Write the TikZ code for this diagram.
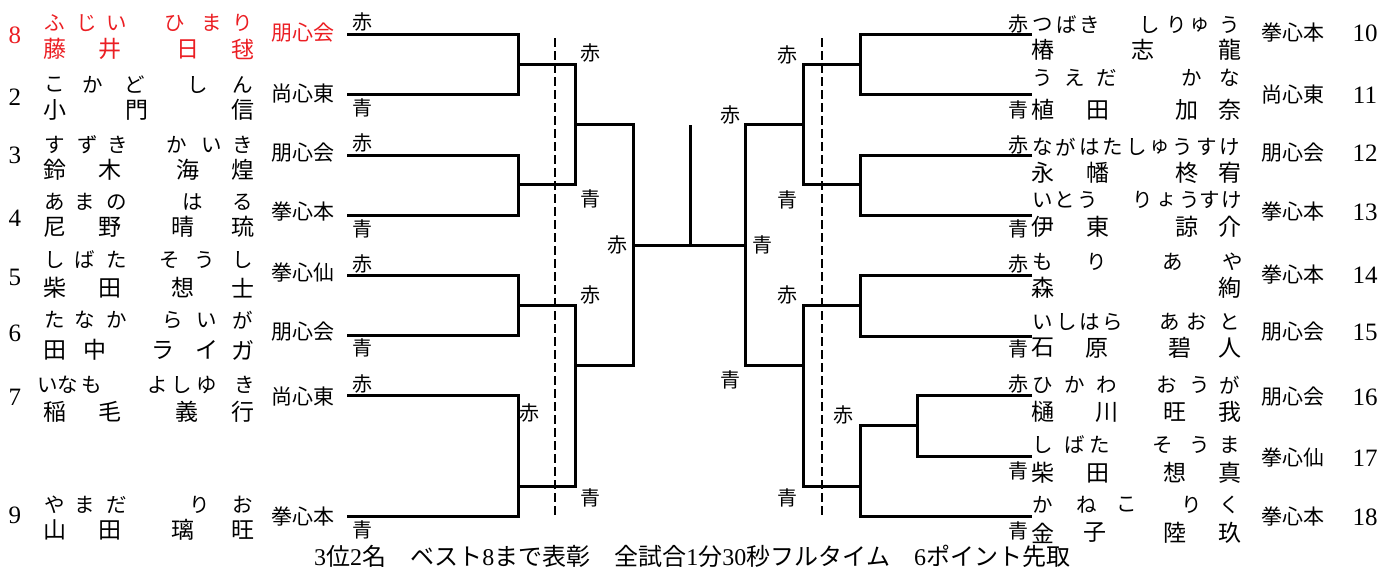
\documentclass[tikz,border=0pt]{standalone}
\usepackage{fontspec}
\newfontfamily\cjk{Noto Sans CJK JP}
\newfontfamily\digits{Liberation Serif}
\definecolor{seedred}{RGB}{235,30,35}
\newcommand\pname[5]{%
  \foreach \x/\c [count=\i] in {#3} \node[kn] (#1a\i) at (\x,#2) {\c};
  \foreach \x/\c [count=\i] in {#5} \node[kj] (#1b\i) at (\x,#4) {\c};
}
\newcommand\dg[1]{{\digits #1}}
\begin{document}
\begin{tikzpicture}[x=1pt,y=-1pt,
  kn/.style={font=\cjk\fontsize{20.5}{20.5}\selectfont,inner sep=0pt},
  kj/.style={font=\cjk\fontsize{23}{23}\selectfont,inner sep=0pt},
  club/.style={font=\cjk\fontsize{21}{21}\selectfont,inner sep=0pt},
  num/.style={font=\digits\fontsize{25}{25}\selectfont,inner sep=0pt},
  lab/.style={font=\cjk\fontsize{20}{20}\selectfont,inner sep=0pt},
  br/.style={line width=3pt,line join=miter},
  dsh/.style={line width=1.6pt,dash pattern=on 9pt off 4pt},
]
\useasboundingbox (0,0) rectangle (1385,571);

% ---------------- left players ----------------
\begin{scope}[every node/.append style={text=seedred}]
\node[num] (n8) at (15,35) {8};
\pname{p8}{23}{55/ふ,87/じ,117/い,175/ひ,212/ま,243/り}{49}{55/藤,110/井,188/日,243/毬}
\node[club] (c8) at (303,33) {朋心会};
\end{scope}

\node[num] (n2) at (15,97) {2};
\pname{p2}{85}{55/こ,93/か,135/ど,198/し,243/ん}{110}{55/小,137/門,243/信}
\node[club] (c2) at (303,94) {尚心東};

\node[num] (n3) at (15,155) {3};
\pname{p3}{145}{55/す,88/ず,118/き,177/か,212/い,243/き}{170}{55/鈴,110/木,188/海,243/煌}
\node[club] (c3) at (303,153) {朋心会};

\node[num] (n4) at (15,218) {4};
\pname{p4}{202}{55/あ,85/ま,117/の,193/は,243/る}{227}{55/尼,110/野,183/晴,243/琉}
\node[club] (c4) at (303,212) {拳心本};

\node[num] (n5) at (15,277) {5};
\pname{p5}{260}{55/し,85/ば,117/た,170/そ,205/う,243/し}{288}{55/柴,110/田,183/想,243/士}
\node[club] (c5) at (303,273) {拳心仙};

\node[num] (n6) at (15,333) {6};
\pname{p6}{320}{55/た,85/な,117/か,173/ら,207/い,243/が}{350}{55/田,95/中,163/ラ,207/イ,243/ガ}
\node[club] (c6) at (303,332) {朋心会};

\node[num] (n7) at (15,397) {7};
\pname{p7}{385}{48/い,68/な,92/も,158/よ,182/し,207/ゆ,245/き}{412}{55/稲,110/毛,187/義,243/行}
\node[club] (c7) at (303,397) {尚心東};

\node[num] (n9) at (15,515) {9};
\pname{p9}{505}{55/や,85/ま,117/だ,200/り,243/お}{530}{55/山,110/田,183/璃,243/旺}
\node[club] (c9) at (303,517) {拳心本};

% ---------------- right players ----------------
\pname{p10}{25}{1043/つ,1067/ば,1090/き,1150/し,1177/り,1200/ゅ,1230/う}{50}{1043/椿,1143/志,1230/龍}
\node[club] (c10) at (1293,33) {拳心本}; \node[num] (n10) at (1365,33) {10};

\pname{p11}{78}{1043/う,1075/え,1107/だ,1192/か,1230/な}{110}{1043/植,1098/田,1187/加,1230/奈}
\node[club] (c11) at (1293,95) {尚心東}; \node[num] (n11) at (1365,95) {11};

\pname{p12}{147}{1043/な,1066/が,1090/は,1113/た,1137/し,1160/ゅ,1183/う,1207/す,1230/け}{173}{1043/永,1098/幡,1187/柊,1230/宥}
\node[club] (c12) at (1293,153) {朋心会}; \node[num] (n12) at (1365,153) {12};

\pname{p13}{200}{1043/い,1065/と,1088/う,1143/り,1167/ょ,1190/う,1210/す,1232/け}{227}{1043/伊,1098/東,1187/諒,1230/介}
\node[club] (c13) at (1293,212) {拳心本}; \node[num] (n13) at (1365,212) {13};

\pname{p14}{262}{1043/も,1097/り,1173/あ,1233/や}{288}{1043/森,1230/絢}
\node[club] (c14) at (1293,275) {拳心本}; \node[num] (n14) at (1365,275) {14};

\pname{p15}{322}{1043/い,1067/し,1090/は,1113/ら,1170/あ,1197/お,1230/と}{348}{1043/石,1097/原,1180/碧,1230/人}
\node[club] (c15) at (1293,332) {朋心会}; \node[num] (n15) at (1365,332) {15};

\pname{p16}{385}{1043/ひ,1075/か,1107/わ,1167/お,1200/う,1230/が}{412}{1043/樋,1107/川,1175/旺,1230/我}
\node[club] (c16) at (1293,397) {朋心会}; \node[num] (n16) at (1365,397) {16};

\pname{p17}{445}{1043/し,1075/ば,1100/た,1163/そ,1200/う,1230/ま}{473}{1043/柴,1098/田,1175/想,1230/真}
\node[club] (c17) at (1293,458) {拳心仙}; \node[num] (n17) at (1365,458) {17};

\pname{p18}{505}{1043/か,1087/ね,1127/こ,1192/り,1230/く}{533}{1043/金,1095/子,1175/陸,1230/玖}
\node[club] (c18) at (1293,517) {拳心本}; \node[num] (n18) at (1365,517) {18};

% ---------------- bracket coordinates ----------------
\coordinate (L8) at (347,34);  \coordinate (L2) at (347,94);
\coordinate (L3) at (347,155); \coordinate (L4) at (347,215);
\coordinate (L5) at (347,275); \coordinate (L6) at (347,335);
\coordinate (L7) at (347,395); \coordinate (L9) at (347,516);
\coordinate (j1) at (518,64);  \coordinate (j2) at (518,184);
\coordinate (j3) at (518,305); \coordinate (j4) at (518,486);
\coordinate (s1) at (575,124); \coordinate (s2) at (575,365);
\coordinate (f1) at (633,245);
\coordinate (c) at (690,245);  \coordinate (ctop) at (690,125);
\coordinate (g1) at (745,245);
\coordinate (p1) at (803,124); \coordinate (p2) at (803,365);
\coordinate (q1) at (860,64);  \coordinate (q2) at (860,184);
\coordinate (q3) at (860,305); \coordinate (q4) at (860,486);
\coordinate (q5) at (917,425);
\coordinate (R10) at (1032,34);  \coordinate (R11) at (1032,94);
\coordinate (R12) at (1032,155); \coordinate (R13) at (1032,215);
\coordinate (R14) at (1032,275); \coordinate (R15) at (1032,336);
\coordinate (R16) at (1032,395); \coordinate (R17) at (1032,456);
\coordinate (R18) at (1032,516);
\coordinate (dl1) at (555,38); \coordinate (dl2) at (555,515);
\coordinate (dr1) at (822,38); \coordinate (dr2) at (822,515);

% left bracket
\draw[br] (L8) -| (j1) |- (L2);
\draw[br] (L3) -| (j2) |- (L4);
\draw[br] (L5) -| (j3) |- (L6);
\draw[br] (L7) -| (j4) |- (L9);
\draw[br] (j1) -| (s1) |- (j2);
\draw[br] (j3) -| (s2) |- (j4);
\draw[br] (s1) -| (f1) |- (s2);
% centre
\draw[br] (f1) -- (c) -- (g1);
\draw[br] (c) -- (ctop);
% right bracket
\draw[br] (R10) -| (q1) |- (R11);
\draw[br] (R12) -| (q2) |- (R13);
\draw[br] (R14) -| (q3) |- (R15);
\draw[br] (R16) -| (q5) |- (R17);
\draw[br] (q5) -| (q4) |- (R18);
\draw[br] (q1) -| (p1) |- (q2);
\draw[br] (q3) -| (p2) |- (q4);
\draw[br] (p1) -| (g1) |- (p2);
% dashed lines
\draw[dsh] (dl1) -- (dl2);
\draw[dsh] (dr1) -- (dr2);

% ---------------- labels ----------------
\node[lab] (la1) at (362,22) {赤};
\node[lab] (la2) at (362,108) {青};
\node[lab] (la3) at (362,143) {赤};
\node[lab] (la4) at (362,229) {青};
\node[lab] (la5) at (362,264) {赤};
\node[lab] (la6) at (362,348) {青};
\node[lab] (la7) at (362,384) {赤};
\node[lab] (la9) at (362,530) {青};
\node[lab] (lb1) at (590,53) {赤};
\node[lab] (lb2) at (590,199) {青};
\node[lab] (lb3) at (590,295) {赤};
\node[lab] (lb4) at (590,498) {青};
\node[lab] (lb5) at (529,413) {赤};
\node[lab] (lc1) at (617,245) {赤};

\node[lab] (ra10) at (1018,24) {赤};
\node[lab] (ra11) at (1018,110) {青};
\node[lab] (ra12) at (1018,145) {赤};
\node[lab] (ra13) at (1018,229) {青};
\node[lab] (ra14) at (1018,264) {赤};
\node[lab] (ra15) at (1018,349) {青};
\node[lab] (ra16) at (1018,384) {赤};
\node[lab] (ra17) at (1018,471) {青};
\node[lab] (ra18) at (1018,531) {青};
\node[lab] (rb1) at (787,55) {赤};
\node[lab] (rb2) at (787,200) {青};
\node[lab] (rb3) at (787,295) {赤};
\node[lab] (rb4) at (787,498) {青};
\node[lab] (rc1) at (730,115) {赤};
\node[lab] (rc2) at (730,380) {青};
\node[lab] (rd1) at (762,245) {青};
\node[lab] (rd2) at (843,415) {赤};

% ---------------- footer ----------------
\node[font=\cjk\fontsize{24}{24}\selectfont,inner sep=0pt] (note) at (692,556) {\dg{3}位\dg{2}名　ベスト\dg{8}まで表彰　全試合\dg{1}分\dg{30}秒フルタイム　\dg{6}ポイント先取};
\end{tikzpicture}
\end{document}
